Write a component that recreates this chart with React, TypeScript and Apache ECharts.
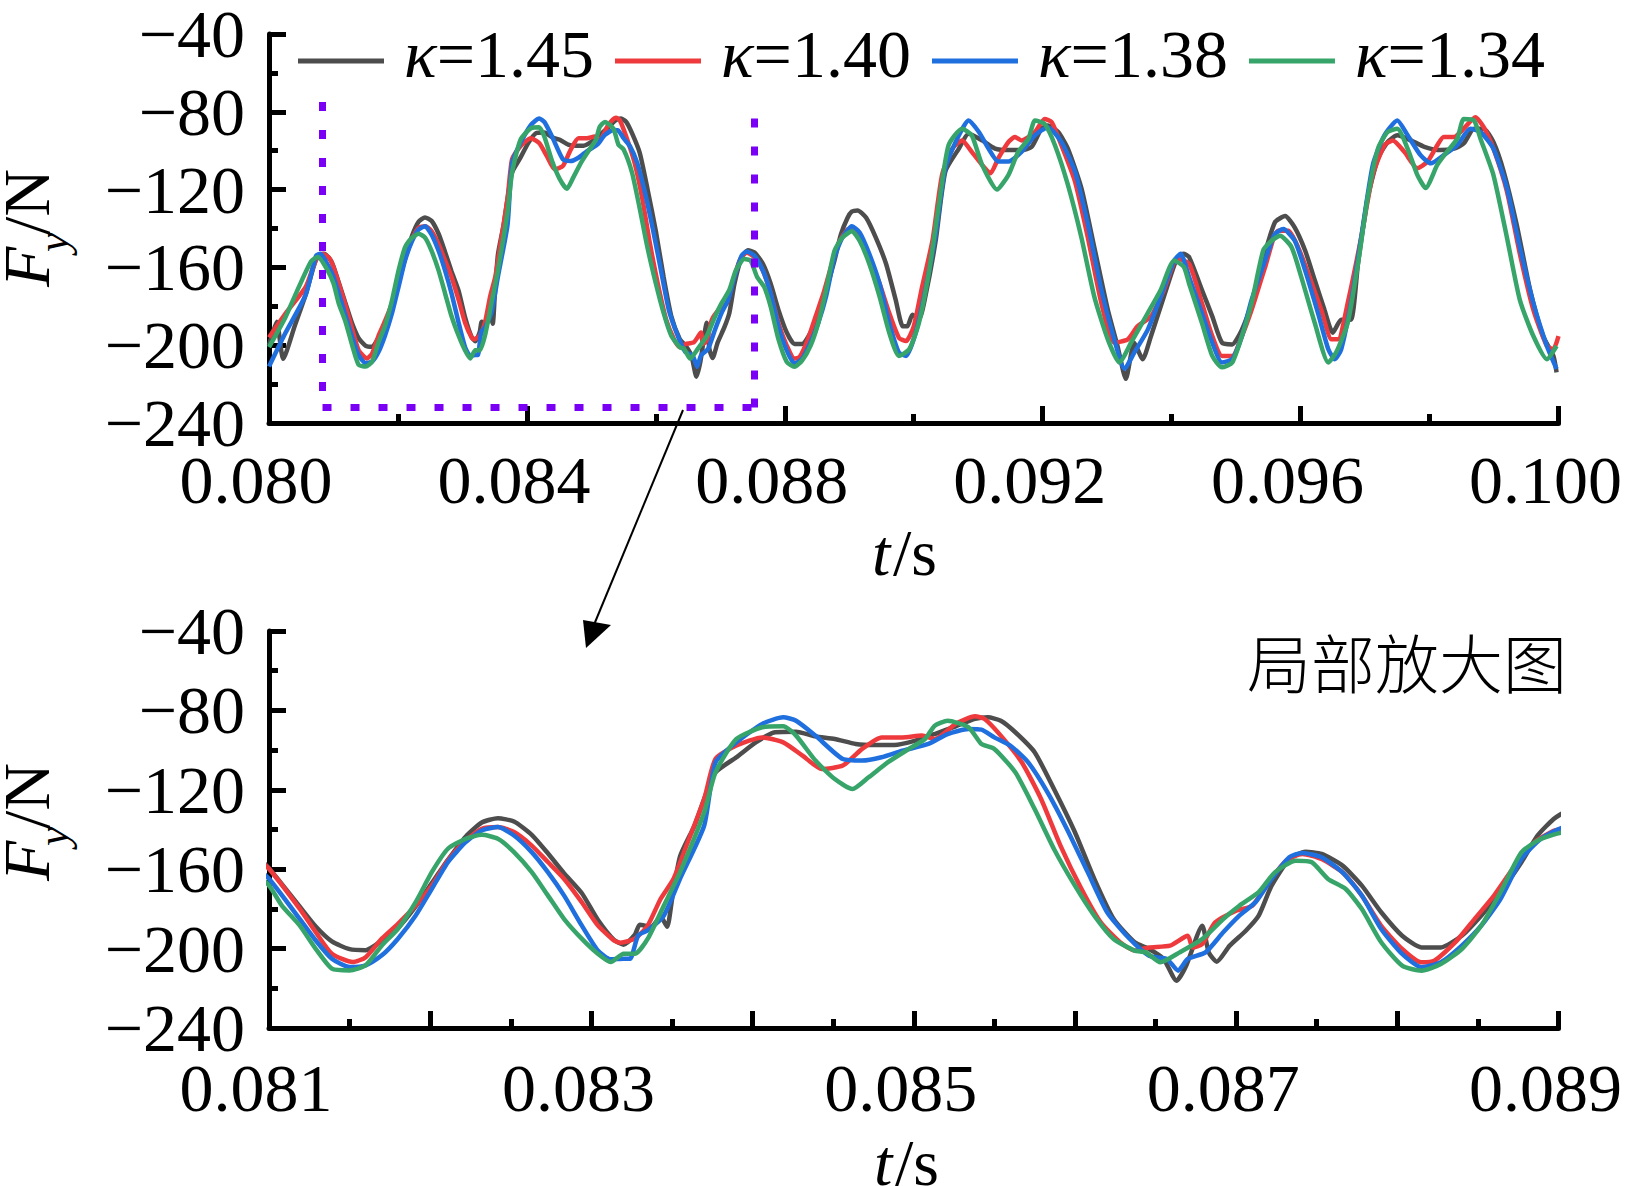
import React, { useEffect, useRef } from 'react';
import * as echarts from 'echarts';

// Series names and colours
const NAMES = ['κ=1.45', 'κ=1.40', 'κ=1.38', 'κ=1.34'];
const COLORS = ['#4d4d4d', '#ee3a3c', '#1f6fde', '#37a56a'];

// Axis settings (values)
const TOP_X = [0.08, 0.1, 0.004];
const BOT_X = [0.081, 0.089, 0.001];
const Y_RANGE = [-240, -40, 40];

// Zoom window marked in the upper plot [t0, t1, Fy top, Fy bottom]
const ZOOM_BOX = [0.08083, 0.08752, -75, -232];

// Data: [t (s), Fy (N)]
const K145: number[][] = [
  [0.08,-200],[0.08012,-188],[0.08022,-207],[0.0804,-190],[0.08057,-174],[0.08073,-156],[0.08085,-153],[0.08095,-156],
  [0.081,-159.5],[0.08119,-178.8],[0.08129,-188.9],[0.08139,-196.4],[0.0815,-200.3],[0.0816,-200.8],[0.0817,-196],[0.0818,-189.7],[0.08191,-178.8],[0.08201,-167],[0.08211,-155.3],[0.08222,-143.6],[0.08232,-136.5],[0.08242,-134.3],[0.08252,-136],[0.08263,-142.7],[0.08273,-152],[0.08283,-162],[0.08294,-172],[0.08304,-185.5],[0.08314,-195.6],[0.0832,-198],[0.08327,-193],[0.0833,-188],[0.08337,-189],[0.08343,-184],[0.08347,-189],[0.0835,-175.4],[0.08355,-153.6],[0.08364,-138],[0.0837,-124.5],
  [0.08377,-111.2],[0.0839,-103.6],[0.08402,-96.1],[0.08414,-91],[0.08427,-90.7],[0.08439,-93.1],[0.08451,-94.4],[0.08464,-96.9],[0.08476,-97.4],[0.08488,-97.4],[0.08501,-95.2],[0.08513,-91.9],[0.08526,-88],[0.08538,-84.3],[0.08546,-83.5],[0.08554,-85.2],[0.08563,-91],[0.08575,-101.1],[0.08587,-119.6],[0.086,-141.4],[0.08612,-164.9],[0.08624,-185.1],[0.08637,-196.8],
  [0.08646,-200.2],[0.08655,-205.2],[0.08663,-216.2],[0.08669,-208.6],[0.08679,-188.5],[0.08683,-201.9],[0.08688,-206.6],[0.08696,-198.5],[0.08706,-191],[0.08714,-183.4],[0.08722,-168.3],[0.08733,-154.9],[0.08743,-151.2],[0.08753,-152.3],[0.08766,-158.2],[0.08778,-168.3],[0.0879,-181.7],[0.08803,-193.5],[0.08815,-199.4],[0.08827,-199.4],[0.0884,-193.5],[0.08852,-183.4],[0.08864,-171.6],[0.08877,-156.5],[0.08887,-143.1],[0.08897,-134.7],[0.08904,-131.3],
  [0.08913,-130.7],[0.08926,-134.4],[0.08941,-144.6],[0.08957,-158.1],[0.08972,-176.7],[0.08983,-190.3],[0.0899,-190.3],[0.08998,-184.3],[0.09008,-186.9],[0.09018,-175],[0.09034,-146.3],[0.09049,-110.7],[0.0907,-98.9],[0.09085,-91.3],[0.09106,-94.7],[0.09126,-98.9],[0.09147,-99.7],[0.09167,-99.7],[0.09183,-98],[0.09198,-88.7],[0.09208,-87],[0.09224,-90.4],[0.09239,-98.9],[0.0926,-119.2],[0.0928,-149.6],[0.09301,-181.8],[0.09316,-200.4],[0.09329,-217.3],[0.09342,-198.7],[0.09355,-207.2],[0.09368,-195.3],[0.09388,-175],[0.09409,-154.7],[0.09419,-153],
  [0.09427,-154.7],[0.09447,-171.6],[0.09463,-185.2],[0.09478,-198.7],[0.09494,-199.6],[0.09509,-192],[0.09524,-178.4],[0.0954,-158.1],[0.0956,-136.9],[0.09576,-133.6],[0.09591,-139.5],[0.09607,-151.3],[0.09622,-166.6],[0.09637,-181.8],[0.0965,-193.6],[0.09663,-186.9],[0.09678,-186.9],[0.09689,-158.1],[0.09704,-124.3],[0.0972,-104],[0.09735,-95.5],[0.0975,-92.1],[0.09771,-94.7],[0.09792,-98],[0.09817,-99.7],[0.09838,-98.9],[0.09853,-96.3],[0.09869,-88.7],[0.09884,-88.7],[0.09899,-95.5],[0.09915,-110.7],[0.09935,-137.8],[0.09956,-171.6],[0.09976,-195.3],[0.09992,-205.5],[0.09997,-214],
];

const K140: number[][] = [
  [0.08,-196],[0.08025,-184],[0.08057,-170],[0.08073,-156],[0.08083,-153],[0.08093,-155],
  [0.081,-159.8],[0.08119,-179.9],[0.08129,-191.7],[0.08139,-202.6],[0.08152,-206.8],[0.0816,-204.3],[0.0817,-195],[0.0818,-187.5],[0.08191,-178.3],[0.08201,-168.2],[0.08211,-155.6],[0.08222,-145.5],[0.08232,-139.7],[0.08242,-138.8],[0.08252,-141.3],[0.08263,-148.1],[0.08273,-156.4],[0.08283,-164.8],[0.08294,-176.6],[0.08304,-188.3],[0.08314,-195.9],[0.08318,-197],[0.08327,-195],[0.08335,-188.3],[0.08343,-174.9],[0.08351,-164.8],[0.08359,-148.1],[0.0837,-124.6],
  [0.08377,-104.4],[0.0839,-97.7],[0.08406,-93.6],[0.08419,-96.1],[0.08431,-102.8],[0.08443,-109.5],[0.08456,-107.8],[0.08468,-99.4],[0.0848,-93.6],[0.08493,-93.6],[0.08505,-92.7],[0.08513,-94.4],[0.08526,-86.8],[0.08538,-83],[0.08544,-84.3],[0.08554,-92.7],[0.08567,-106.1],[0.08579,-124.6],[0.08591,-148.1],[0.08604,-169.9],[0.08616,-186.8],[0.08628,-196.8],[0.08637,-201],
  [0.08646,-199.4],[0.08659,-198.5],[0.0867,-193.5],[0.08673,-199.4],[0.08679,-197.7],[0.08687,-186.8],[0.087,-180.9],[0.0871,-178.4],[0.0872,-166.6],[0.08731,-155.7],[0.08741,-152.3],[0.08753,-154.9],[0.08766,-161.6],[0.08778,-173.3],[0.0879,-188.5],[0.08803,-200.2],[0.08815,-206.9],[0.08823,-206.1],[0.08836,-196.8],[0.08848,-185],[0.0886,-173.3],[0.08873,-158.2],[0.08885,-146.5],[0.08897,-140.6],[0.08904,-139.7],
  [0.08916,-144.6],[0.08931,-154.7],[0.08947,-168.3],[0.08962,-183.5],[0.08977,-196.2],[0.08988,-197.9],[0.09,-190.3],[0.09013,-169.9],[0.09029,-146.3],[0.09044,-112.4],[0.0906,-98.9],[0.09075,-94.7],[0.0909,-100.6],[0.09106,-107.3],[0.09119,-111.6],[0.09131,-104],[0.09147,-95.5],[0.09157,-93],[0.09167,-94.7],[0.09188,-90.4],[0.09203,-83.7],[0.09214,-85.3],[0.09229,-97.2],[0.0925,-115.8],[0.0927,-144.6],[0.09291,-178.4],[0.09311,-198.7],[0.09332,-197],[0.09347,-190.3],[0.09368,-185.2],[0.09388,-171.6],[0.09409,-155.6],
  [0.09427,-158.1],[0.09447,-178.4],[0.09463,-195.3],[0.09478,-205.5],[0.09494,-205.5],[0.09509,-195.3],[0.09524,-181.8],[0.09545,-159.8],[0.09565,-141.2],[0.09581,-141.2],[0.09596,-149.6],[0.09612,-163.2],[0.09632,-181.8],[0.09648,-197],[0.09658,-197],[0.09673,-178.4],[0.09694,-144.6],[0.09712,-112.4],[0.0973,-97.2],[0.09743,-94.7],[0.09761,-100.6],[0.09781,-109],[0.09797,-105.6],[0.09812,-97.2],[0.09822,-93],[0.09838,-93],[0.09853,-88.7],[0.09871,-82.8],[0.09884,-87.9],[0.09899,-98.9],[0.0992,-120.9],[0.0994,-153],[0.09961,-181.8],[0.09982,-200.4],[0.09992,-202.1],[0.1,-195.3],
];

const K138: number[][] = [
  [0.08,-211],[0.08025,-194],[0.08057,-174],[0.08073,-154],[0.0808,-153],[0.0809,-158],
  [0.081,-164.8],[0.08119,-185],[0.08129,-195.9],[0.08139,-205.1],[0.0815,-209.3],[0.0816,-208.4],[0.0817,-203.4],[0.0818,-195],[0.08191,-183.3],[0.08201,-169.9],[0.08211,-156.4],[0.08222,-146.4],[0.08232,-140.5],[0.08242,-138.8],[0.08252,-143],[0.08263,-151.4],[0.08273,-161.5],[0.08283,-173.2],[0.08294,-188.3],[0.08304,-200.9],[0.08312,-205.4],[0.0832,-205.1],[0.08324,-205.1],[0.08329,-193.4],[0.08335,-190.8],[0.08345,-183.3],[0.08355,-164.8],[0.0837,-138],
  [0.08377,-106.2],[0.0839,-96.1],[0.08406,-86.8],[0.08419,-83.5],[0.08427,-85.2],[0.08439,-92.7],[0.08456,-104.5],[0.08468,-105.3],[0.0848,-103.6],[0.08493,-100.3],[0.08509,-96.9],[0.08521,-91.9],[0.08534,-89.4],[0.08542,-89.7],[0.0855,-93.6],[0.0856,-97.8],[0.08571,-106.2],[0.08583,-121.3],[0.08595,-139.7],[0.08608,-161.6],[0.0862,-181.7],[0.08633,-194.3],
  [0.08646,-203.6],[0.08657,-205.2],[0.08664,-211.1],[0.0867,-205.2],[0.08681,-201.9],[0.08692,-191.8],[0.08702,-183.4],[0.08712,-176.7],[0.08722,-164.9],[0.08733,-154],[0.08741,-151.8],[0.08753,-154],[0.08766,-161.6],[0.08778,-173.3],[0.0879,-190.1],[0.08803,-202.7],[0.08815,-209.4],[0.08827,-206.9],[0.0884,-198.5],[0.08852,-188.5],[0.08864,-175],[0.08877,-154.9],[0.08889,-144.8],[0.08904,-138.9],
  [0.08916,-142],[0.08931,-153],[0.08947,-168.3],[0.08962,-188.6],[0.08977,-203.8],[0.08988,-205.5],[0.09003,-193.6],[0.09018,-171.6],[0.09034,-142.9],[0.09049,-109],[0.0907,-92.1],[0.09085,-84.5],[0.09101,-90.4],[0.09116,-98.9],[0.09131,-105.6],[0.09147,-105.6],[0.09167,-100.6],[0.09188,-92.1],[0.09208,-87.9],[0.09229,-95.5],[0.0925,-110.7],[0.0927,-137.8],[0.09291,-171.6],[0.09311,-197],[0.09327,-212.2],[0.09342,-203.8],[0.09363,-192],[0.09383,-175],[0.09404,-156.4],[0.09414,-153],
  [0.09427,-164.9],[0.09447,-183.5],[0.09463,-198.7],[0.09478,-208.9],[0.09494,-207.2],[0.09509,-195.3],[0.09524,-176.7],[0.09545,-156.4],[0.0956,-142.9],[0.09573,-140.3],[0.09591,-146.3],[0.09607,-161.5],[0.09627,-183.5],[0.09643,-202.1],[0.09653,-207.2],[0.09663,-202.1],[0.09678,-178.4],[0.09694,-144.6],[0.09712,-107.3],[0.0973,-92.1],[0.0975,-84.5],[0.09766,-92.1],[0.09786,-102.3],[0.09802,-106.5],[0.09822,-102.3],[0.09843,-97.2],[0.09863,-88.7],[0.09879,-90.4],[0.09899,-98.9],[0.0992,-119.2],[0.0994,-149.6],[0.09961,-178.4],[0.09982,-200.4],[0.09997,-212.2],
];

const K134: number[][] = [
  [0.08,-201],[0.08025,-186],[0.08041,-174],[0.08065,-157],[0.08076,-154.6],[0.0809,-161],
  [0.081,-168.2],[0.08108,-178.3],[0.08119,-188.3],[0.08129,-200.1],[0.08139,-210.1],[0.0815,-211],[0.0816,-208.4],[0.0817,-198.4],[0.0818,-190],[0.08191,-176.6],[0.08201,-161.5],[0.08211,-149.7],[0.08222,-144.7],[0.08232,-142.7],[0.08242,-144.7],[0.08252,-151.4],[0.08263,-161.5],[0.08273,-173.2],[0.08283,-185],[0.08294,-195],[0.08304,-202.6],[0.08312,-206.8],[0.0832,-202.6],[0.08327,-202.6],[0.08335,-195],[0.08345,-178.3],[0.08355,-161.5],[0.0837,-131.3],
  [0.08377,-111.2],[0.0839,-94.4],[0.08406,-88.5],[0.08419,-88],[0.08427,-92.7],[0.08439,-105.3],[0.08451,-114.6],[0.08462,-119.6],[0.08472,-113.7],[0.08484,-106.1],[0.08497,-99.4],[0.08507,-94.4],[0.08513,-87.7],[0.08521,-85.2],[0.08534,-88.5],[0.08542,-96.9],[0.0855,-99.4],[0.08563,-111.2],[0.08575,-129.7],[0.08587,-149.8],[0.086,-168.3],[0.08612,-183.4],[0.08624,-195.2],[0.08637,-201],
  [0.08644,-201.9],[0.08653,-206.9],[0.08665,-201.9],[0.08679,-195.2],[0.08692,-185.1],[0.08702,-178.4],[0.08714,-171.6],[0.08724,-161.6],[0.08737,-155.7],[0.08747,-156.5],[0.08757,-164.9],[0.08768,-170],[0.08778,-180.1],[0.0879,-196.8],[0.08803,-208.6],[0.08815,-211.1],[0.08827,-207.8],[0.0884,-200.2],[0.08852,-188.5],[0.08864,-171.6],[0.08877,-151.5],[0.08889,-144.8],[0.08904,-141.4],
  [0.08916,-146.3],[0.08931,-158.1],[0.08947,-175],[0.08962,-193.6],[0.08977,-205.5],[0.08993,-202.1],[0.09008,-188.6],[0.09024,-161.5],[0.09039,-127.6],[0.09054,-97.2],[0.09075,-88.7],[0.0909,-92.1],[0.09106,-107.3],[0.09129,-120],[0.09147,-112.4],[0.09162,-100.6],[0.09178,-93.8],[0.09188,-84.5],[0.09203,-86.2],[0.09219,-97.2],[0.09239,-117.5],[0.0926,-144.6],[0.0928,-175],[0.09301,-197],[0.09319,-208.9],[0.09337,-198.7],[0.09363,-183.5],[0.09383,-171.6],[0.09404,-156.4],[0.09419,-159.8],
  [0.09427,-168.3],[0.09447,-188.6],[0.09463,-205.5],[0.09478,-211.4],[0.09494,-208.9],[0.09509,-195.3],[0.09524,-178.4],[0.09542,-151.3],[0.09555,-146.3],[0.09568,-143.7],[0.09586,-149.6],[0.09601,-164.9],[0.09622,-188.6],[0.09643,-208.9],[0.09655,-203.8],[0.09673,-188.6],[0.09689,-158.1],[0.09704,-124.3],[0.0972,-98.9],[0.09735,-90.4],[0.0975,-88.7],[0.09766,-98.9],[0.09781,-112.4],[0.09794,-119.2],[0.09812,-107.3],[0.09827,-100.6],[0.09843,-93.8],[0.09853,-83.7],[0.09869,-84.5],[0.09879,-93.8],[0.09899,-112.4],[0.0992,-144.6],[0.0994,-176.7],[0.09961,-195.3],[0.09982,-207.2],[0.09997,-200.4],
];

const DATA = [K145, K140, K138, K134];

const SERIF = '"Liberation Serif", "Times New Roman", serif';
const CJK = '"Noto Sans CJK SC", sans-serif';

const axisStyle = {
  axisLine: { show: true, onZero: false, lineStyle: { color: '#000', width: 5 } },
  axisTick: { show: true, inside: true, length: 17, lineStyle: { color: '#000', width: 5 } },
  minorTick: { show: true, splitNumber: 2, length: 9, lineStyle: { color: '#000', width: 5 } },
  splitLine: { show: false },
  minorSplitLine: { show: false },
};

const labelText = { color: '#000', fontSize: 68, fontFamily: SERIF };

function yAxis(gridIndex: number) {
  return {
    type: 'value', gridIndex, min: Y_RANGE[0], max: Y_RANGE[1], interval: Y_RANGE[2],
    ...axisStyle,
    axisLabel: {
      ...labelText, margin: 24,
      formatter: (v: number) => (v < 0 ? '\u2212' + Math.abs(v) : String(v)),
    },
  };
}

function axisName(x: number, y: number) {
  return {
    type: 'group', x, y, rotation: Math.PI / 2,
    children: [
      { type: 'text', x: 0, y: -22, style: { text: 'F', fontSize: 66, fontStyle: 'italic', fontFamily: SERIF, fill: '#000', verticalAlign: 'middle', align: 'left' } },
      { type: 'text', x: 35, y: 5, style: { text: 'y', fontSize: 44, fontStyle: 'italic', fontFamily: SERIF, fill: '#000', verticalAlign: 'middle', align: 'left' } },
      { type: 'text', x: 52, y: -22, style: { text: '/N', fontSize: 66, fontFamily: SERIF, fill: '#000', verticalAlign: 'middle', align: 'left' } },
    ],
  };
}

function tName(x: number, y: number) {
  return {
    type: 'group', x, y,
    children: [
      { type: 'text', x: 0, y: 0, style: { text: 't', fontSize: 66, fontStyle: 'italic', fontFamily: SERIF, fill: '#000', verticalAlign: 'middle', align: 'left' } },
      { type: 'text', x: 21, y: 0, style: { text: '/s', fontSize: 66, fontFamily: SERIF, fill: '#000', verticalAlign: 'middle', align: 'left' } },
    ],
  };
}

export default function App() {
  const ref = useRef<HTMLDivElement>(null);
  useEffect(() => {
    const chart = echarts.init(ref.current as HTMLDivElement, null, { renderer: 'svg' });
    const series: any[] = [];
    [0, 1].forEach((g) => {
      DATA.forEach((d, i) => {
        const s: any = {
          type: 'line', name: NAMES[i], xAxisIndex: g, yAxisIndex: g, data: d,
          showSymbol: false, smooth: 0.2, clip: true,
          lineStyle: { color: COLORS[i], width: 4.5 },
          itemStyle: { color: COLORS[i] },
          emphasis: { disabled: true },
        };
        if (g === 0 && i === 3) {
          const [t0, t1, yt, yb] = ZOOM_BOX;
          s.markLine = {
            silent: true, symbol: ['none', 'none'], label: { show: false },
            lineStyle: { color: '#7a00f5', width: 7, type: [9, 19], opacity: 1 },
            emphasis: { disabled: true },
            data: [
              [{ coord: [t0, yt] }, { coord: [t0, yb] }],
              [{ coord: [t0, yb] }, { coord: [t1, yb] }],
              [{ coord: [t1, yb] }, { coord: [t1, yt] }],
            ],
          };
        }
        series.push(s);
      });
    });

    const option: any = {
      animation: false,
      backgroundColor: '#fff',
      grid: [
        { left: 269, right: 57, top: 29, height: 394 },
        { left: 269, right: 57, top: 631, height: 397 },
      ],
      legend: {
        data: NAMES, left: 298, top: 20, padding: 0, icon: 'rect', itemWidth: 86, itemHeight: 5, itemGap: 21,
        selectedMode: false,
        formatter: (n: string) => `{k|κ}{n|${n.slice(1)}}`,
        textStyle: {
          color: '#000', fontSize: 68, fontFamily: SERIF, lineHeight: 68, padding: [0, 0, 14, 15],
          rich: {
            k: { fontStyle: 'italic', fontSize: 68, fontFamily: SERIF, lineHeight: 68, color: '#000' },
            n: { fontSize: 68, fontFamily: SERIF, lineHeight: 68, color: '#000' },
          },
        },
      },
      xAxis: [
        {
          type: 'value', gridIndex: 0, min: TOP_X[0], max: TOP_X[1], interval: TOP_X[2],
          ...axisStyle,
          axisLabel: { ...labelText, margin: 23, padding: [0, 26, 0, 0], formatter: (v: number) => v.toFixed(3) },
        },
        {
          type: 'value', gridIndex: 1, min: BOT_X[0], max: BOT_X[1], interval: BOT_X[2],
          ...axisStyle,
          axisLabel: {
            ...labelText, margin: 26, padding: [0, 26, 0, 0],
            formatter: (v: number) => (Math.round(v * 1000) % 2 === 1 ? v.toFixed(3) : ''),
          },
        },
      ],
      yAxis: [yAxis(0), yAxis(1)],
      series,
      graphic: [
        axisName(48, 287),
        axisName(48, 881),
        tName(872, 552),
        tName(874, 1162),
        { type: 'text', x: 1247, y: 660, style: { text: '局部放大图', fontSize: 64, fontWeight: 300, fontFamily: CJK, fill: '#000', verticalAlign: 'middle', align: 'left' } },
        { type: 'line', shape: { x1: 683, y1: 410, x2: 591, y2: 632 }, style: { stroke: '#000', lineWidth: 2 } },
        { type: 'polygon', shape: { points: [[583, 620], [611, 625], [586, 648]] }, style: { fill: '#000' } },
      ],
    };
    chart.setOption(option);
    return () => chart.dispose();
  }, []);
  return (
    <div
      ref={ref}
      style={{ position: 'fixed', left: 0, top: 0, width: 1625, height: 1186, background: '#fff' }}
    />
  );
}
